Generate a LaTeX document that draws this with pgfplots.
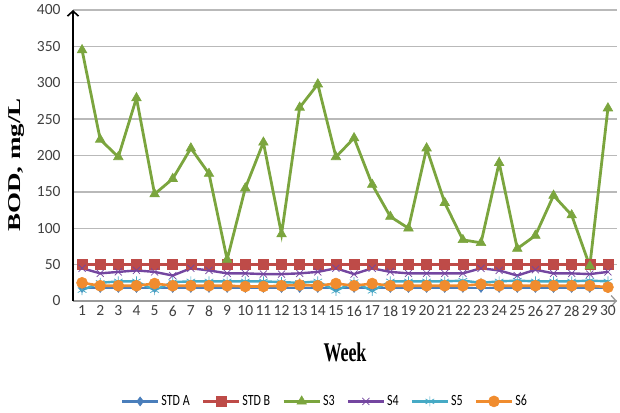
\documentclass[border=0pt]{standalone}
\usepackage{fontspec}
\setmainfont{Liberation Serif}
\newfontfamily\carlito{Carlito}
\usepackage{graphicx}
\usepackage{pgfplots}
\usepackage{pgfplotstable}
\pgfplotsset{compat=1.18}
\usetikzlibrary{arrows.meta,calc}

\definecolor{stdA}{HTML}{4A7EBB}
\definecolor{stdB}{HTML}{BE4B48}
\definecolor{sthree}{HTML}{7BA53E}
\definecolor{sfour}{HTML}{7446A0}
\definecolor{sfive}{HTML}{46AAC5}
\definecolor{ssix}{HTML}{F08C2E}

% BOD per week, mg/L
\pgfplotstableread{
week stda stdb s3  s4 s5 s6
1    18   50   345 45 15 25
2    18   50   222 38 25 21
3    18   50   198 40 27 21
4    18   50   279 42 27 21
5    18   50   147 40 15 24
6    18   50   168 35 26 21
7    18   50   210 45 27 21
8    18   50   175 42 27 21
9    18   50   57  38 27 21
10   18   50   155 38 27 20
11   18   50   218 37 27 20
12   18   50   92  37 26 21
13   18   50   266 38 25 22
14   18   50   298 40 27 21
15   18   50   198 45 14 24
16   18   50   224 37 26 21
17   18   50   160 45 14 24
18   18   50   116 40 27 21
19   18   50   100 38 27 21
20   18   50   210 38 27 21
21   18   50   135 38 27 21
22   18   50   84  38 28 21
23   18   50   80  45 25 23
24   18   50   190 42 27 21
25   18   50   72  35 28 21
26   18   50   90  43 27 21
27   18   50   145 38 27 21
28   18   50   118 38 27 21
29   18   50   48  37 28 21
30   18   50   265 40 27 19
}\bod

\begin{document}
\begin{tikzpicture}
\begin{axis}[
    scale only axis,
    width=544pt, height=291pt,
    xmin=0.5, xmax=30.5,
    ymin=0, ymax=400,
    xtick={1,...,30},
    ytick={0,50,...,400},
    axis lines=left,
    x axis line style={draw=gray!80, line width=1.3pt, -{Straight Barb[length=5pt,width=11pt]}},
    y axis line style={draw=black, line width=1.6pt, -{Straight Barb[length=5pt,width=11pt]}},
    major tick length=0pt,
    ymajorgrids,
    grid style={draw=gray!55, line width=1.3pt},
    /pgf/number format/assume math mode=true,
    tick label style={font=\carlito\fontsize{15.5}{15.5}\selectfont, text=black!75},
    xticklabel style={yshift=-1pt},
    yticklabel style={xshift=-9pt},
    xlabel={\scalebox{1}[1.5]{\textbf{Week}}},
    ylabel={\scalebox{1.5}[1]{\textbf{BOD, mg/L}}},
    label style={font=\fontsize{18}{18}\selectfont},
    xlabel style={at={(axis description cs:0.5,-0.175)}, anchor=center},
    ylabel style={at={(axis description cs:-0.103,0.467)}, anchor=center},
    legend columns=6,
    legend style={at={(axis description cs:0.463,-0.345)}, anchor=center,
        draw=none, fill=none, font=\carlito\fontsize{12}{12}\selectfont,
        /tikz/every even column/.append style={column sep=10pt}},
    legend image code/.code={%
        \draw[mark repeat=2,mark phase=2,#1] plot coordinates {(0pt,0pt) (18pt,0pt) (36pt,0pt)};},
]
\coordinate (O) at (rel axis cs:0,0);
\coordinate (T) at (rel axis cs:1,1);

\addplot[stdA, line width=2.6pt, mark=diamond*, mark size=4.5pt, mark options={line width=0.6pt}] table[x=week, y=stda] {\bod};
\addplot[stdB, line width=2.6pt, mark=square*, mark size=5pt, mark options={line width=0.6pt}] table[x=week, y=stdb] {\bod};
\addplot[sthree, line width=2.8pt, mark=triangle*, mark size=5.5pt, mark options={line width=0.6pt}] table[x=week, y=s3] {\bod};
\addplot[sfour, line width=2.4pt, mark=x, mark size=5pt, mark options={line width=0.7pt}] table[x=week, y=s4] {\bod};
\addplot[sfive, line width=2.4pt, mark=asterisk, mark size=5pt, mark options={line width=0.7pt}] table[x=week, y=s5] {\bod};
\addplot[ssix, line width=2.6pt, mark=*, mark size=5.5pt, mark options={line width=0.6pt}] table[x=week, y=s6] {\bod};

\legend{\scalebox{1}[1.3]{STD A}, \scalebox{1}[1.3]{STD B}, \scalebox{1}[1.3]{S3},
        \scalebox{1}[1.3]{S4}, \scalebox{1}[1.3]{S5}, \scalebox{1}[1.3]{S6}}
\end{axis}
\pgfresetboundingbox
\path[use as bounding box] ($(O)+(-73pt,-111pt)$) rectangle ($(T)+(3pt,10pt)$);
\end{tikzpicture}
\end{document}
